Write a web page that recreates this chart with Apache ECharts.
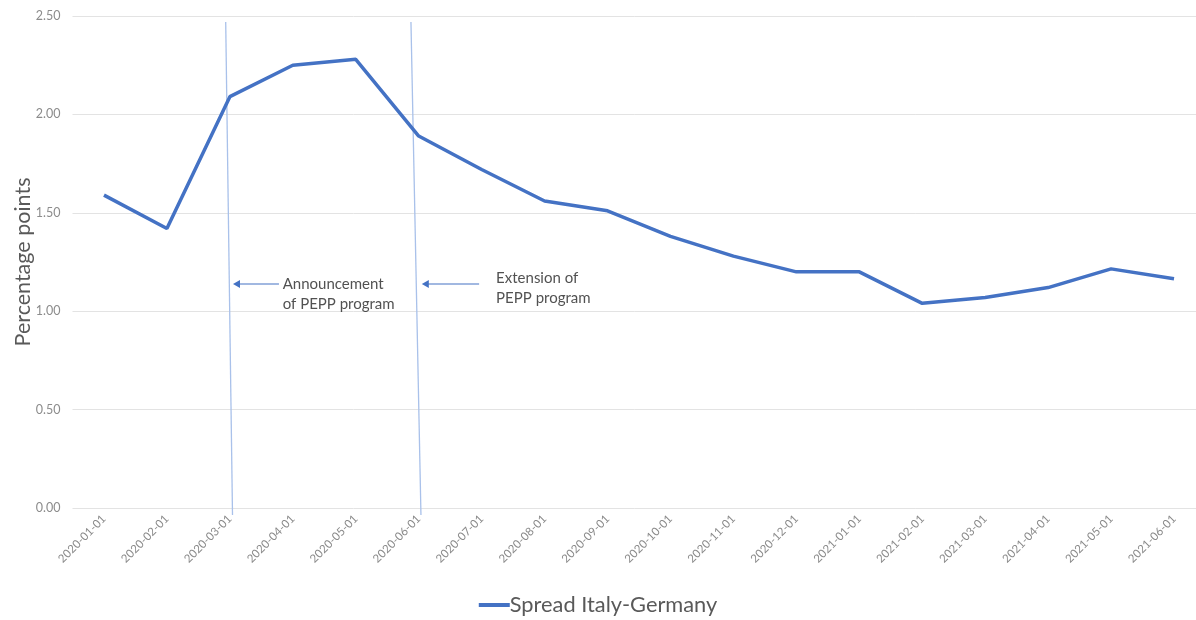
<!DOCTYPE html>
<html>
<head>
<meta charset="utf-8">
<script src="https://cdn.jsdelivr.net/npm/echarts@6/dist/echarts.min.js"></script>
<style>
  html, body { margin: 0; padding: 0; background: #ffffff; }
  #chart { width: 1196px; height: 620px; }
</style>
</head>
<body>
<div id="chart"></div>
<script>
// Monthly sovereign spread, Italy vs Germany (percentage points)
const months = [
  '2020-01-01','2020-02-01','2020-03-01','2020-04-01','2020-05-01','2020-06-01',
  '2020-07-01','2020-08-01','2020-09-01','2020-10-01','2020-11-01','2020-12-01',
  '2021-01-01','2021-02-01','2021-03-01','2021-04-01','2021-05-01','2021-06-01'
];
const spread = [1.59, 1.42, 2.09, 2.25, 2.28, 1.89, 1.72, 1.56, 1.51, 1.38, 1.28, 1.20,
                1.20, 1.04, 1.07, 1.12, 1.215, 1.165];
const yTicks = [0, 0.5, 1.0, 1.5, 2.0, 2.5];

// Event annotations in (month index, value) space: [x1, y1, x2, y2, kind]
const eventLines = [
  [1.934, 2.47, 2.042, -0.036, 'rule'],
  [4.877, 2.47, 5.036, -0.036, 'rule']
];
const eventArrows = [
  [2.78, 1.138, 2.05, 1.138, 'arrow'],
  [5.96, 1.138, 5.05, 1.138, 'arrow']
];
const eventNotes = [
  { at: [2.84, 1.085], text: 'Announcement\nof PEPP program' },
  { at: [6.23, 1.115], text: 'Extension of\nPEPP program' }
];

const FONT = 'Lato, "Open Sans", sans-serif';
const chart = echarts.init(document.getElementById('chart'));

function renderSegment(params, api) {
  const p1 = api.coord([api.value(0), api.value(1)]);
  const p2 = api.coord([api.value(2), api.value(3)]);
  const kind = api.value(4);
  if (kind === 'rule') {
    return {
      type: 'line',
      shape: { x1: p1[0], y1: p1[1], x2: p2[0], y2: p2[1] },
      style: { stroke: '#a9c1ea', lineWidth: 1.3 }
    };
  }
  // arrow: shaft plus a small filled head at p2 (pointing left)
  const h = 7, w = 4;
  return {
    type: 'group',
    children: [
      {
        type: 'line',
        shape: { x1: p1[0], y1: p1[1], x2: p2[0] + h - 1, y2: p2[1] },
        style: { stroke: '#4472c4', lineWidth: 1.1 }
      },
      {
        type: 'polygon',
        shape: { points: [[p2[0], p2[1]], [p2[0] + h, p2[1] - w], [p2[0] + h, p2[1] + w]] },
        style: { fill: '#4472c4' }
      }
    ]
  };
}

chart.setOption({
  animation: false,
  backgroundColor: '#ffffff',
  grid: {
    left: 72.5, top: 16, width: 1133, bottom: 112,
    containLabel: false, outerBoundsMode: 'none'
  },
  legend: {
    top: 594,
    left: 'center',
    padding: [0, 0, 0, 6],
    data: [{ name: 'Spread Italy-Germany', icon: 'rect' }],
    itemWidth: 31,
    itemHeight: 4,
    itemGap: 0,
    itemStyle: { color: '#4472c4' },
    textStyle: { fontFamily: FONT, fontSize: 21.8, color: '#595959', padding: [0, 0, 0, -5] }
  },
  xAxis: [
    {
      type: 'category',
      data: months,
      boundaryGap: true,
      axisLine: { show: false },
      axisTick: { show: false },
      axisLabel: {
        rotate: 45, margin: 9, interval: 0,
        fontFamily: FONT, fontSize: 11.5, color: '#8a8a8a'
      },
      splitLine: { show: false }
    },
    {
      // helper axis for annotations, aligned with category centers
      type: 'value', min: -0.5, max: months.length - 0.5, show: false
    }
  ],
  yAxis: {
    type: 'value',
    min: 0, max: yTicks[yTicks.length - 1], interval: 0.5,
    name: 'Percentage points',
    nameLocation: 'middle',
    nameGap: 38,
    nameMoveOverlap: false,
    nameTextStyle: { fontFamily: FONT, fontSize: 21.5, color: '#595959' },
    axisLine: { show: false },
    axisTick: { show: false },
    axisLabel: {
      fontFamily: FONT, fontSize: 12.5, color: '#8c8c8c', margin: 12,
      formatter: v => v.toFixed(2)
    },
    splitLine: { lineStyle: { color: '#e3e3e3', width: 1 } }
  },
  series: [
    {
      name: 'Spread Italy-Germany',
      type: 'line',
      data: spread,
      showSymbol: false,
      symbol: 'none',
      lineStyle: { color: '#4472c4', width: 3.5 },
      itemStyle: { color: '#4472c4' },
      z: 3
    },
    {
      name: 'event-lines',
      type: 'custom',
      xAxisIndex: 1,
      clip: false,
      silent: true,
      renderItem: renderSegment,
      data: eventLines.concat(eventArrows),
      z: 2
    },
    {
      name: 'event-notes',
      type: 'scatter',
      xAxisIndex: 1,
      clip: false,
      symbolSize: 0,
      silent: true,
      data: eventNotes.map(n => ({ value: n.at, label: { formatter: n.text } })),
      label: {
        show: true, position: 'right', distance: 0,
        align: 'left', verticalAlign: 'middle',
        fontFamily: FONT, fontSize: 15, lineHeight: 20, color: '#262626'
      },
      z: 2
    }
  ]
});
</script>
</body>
</html>
